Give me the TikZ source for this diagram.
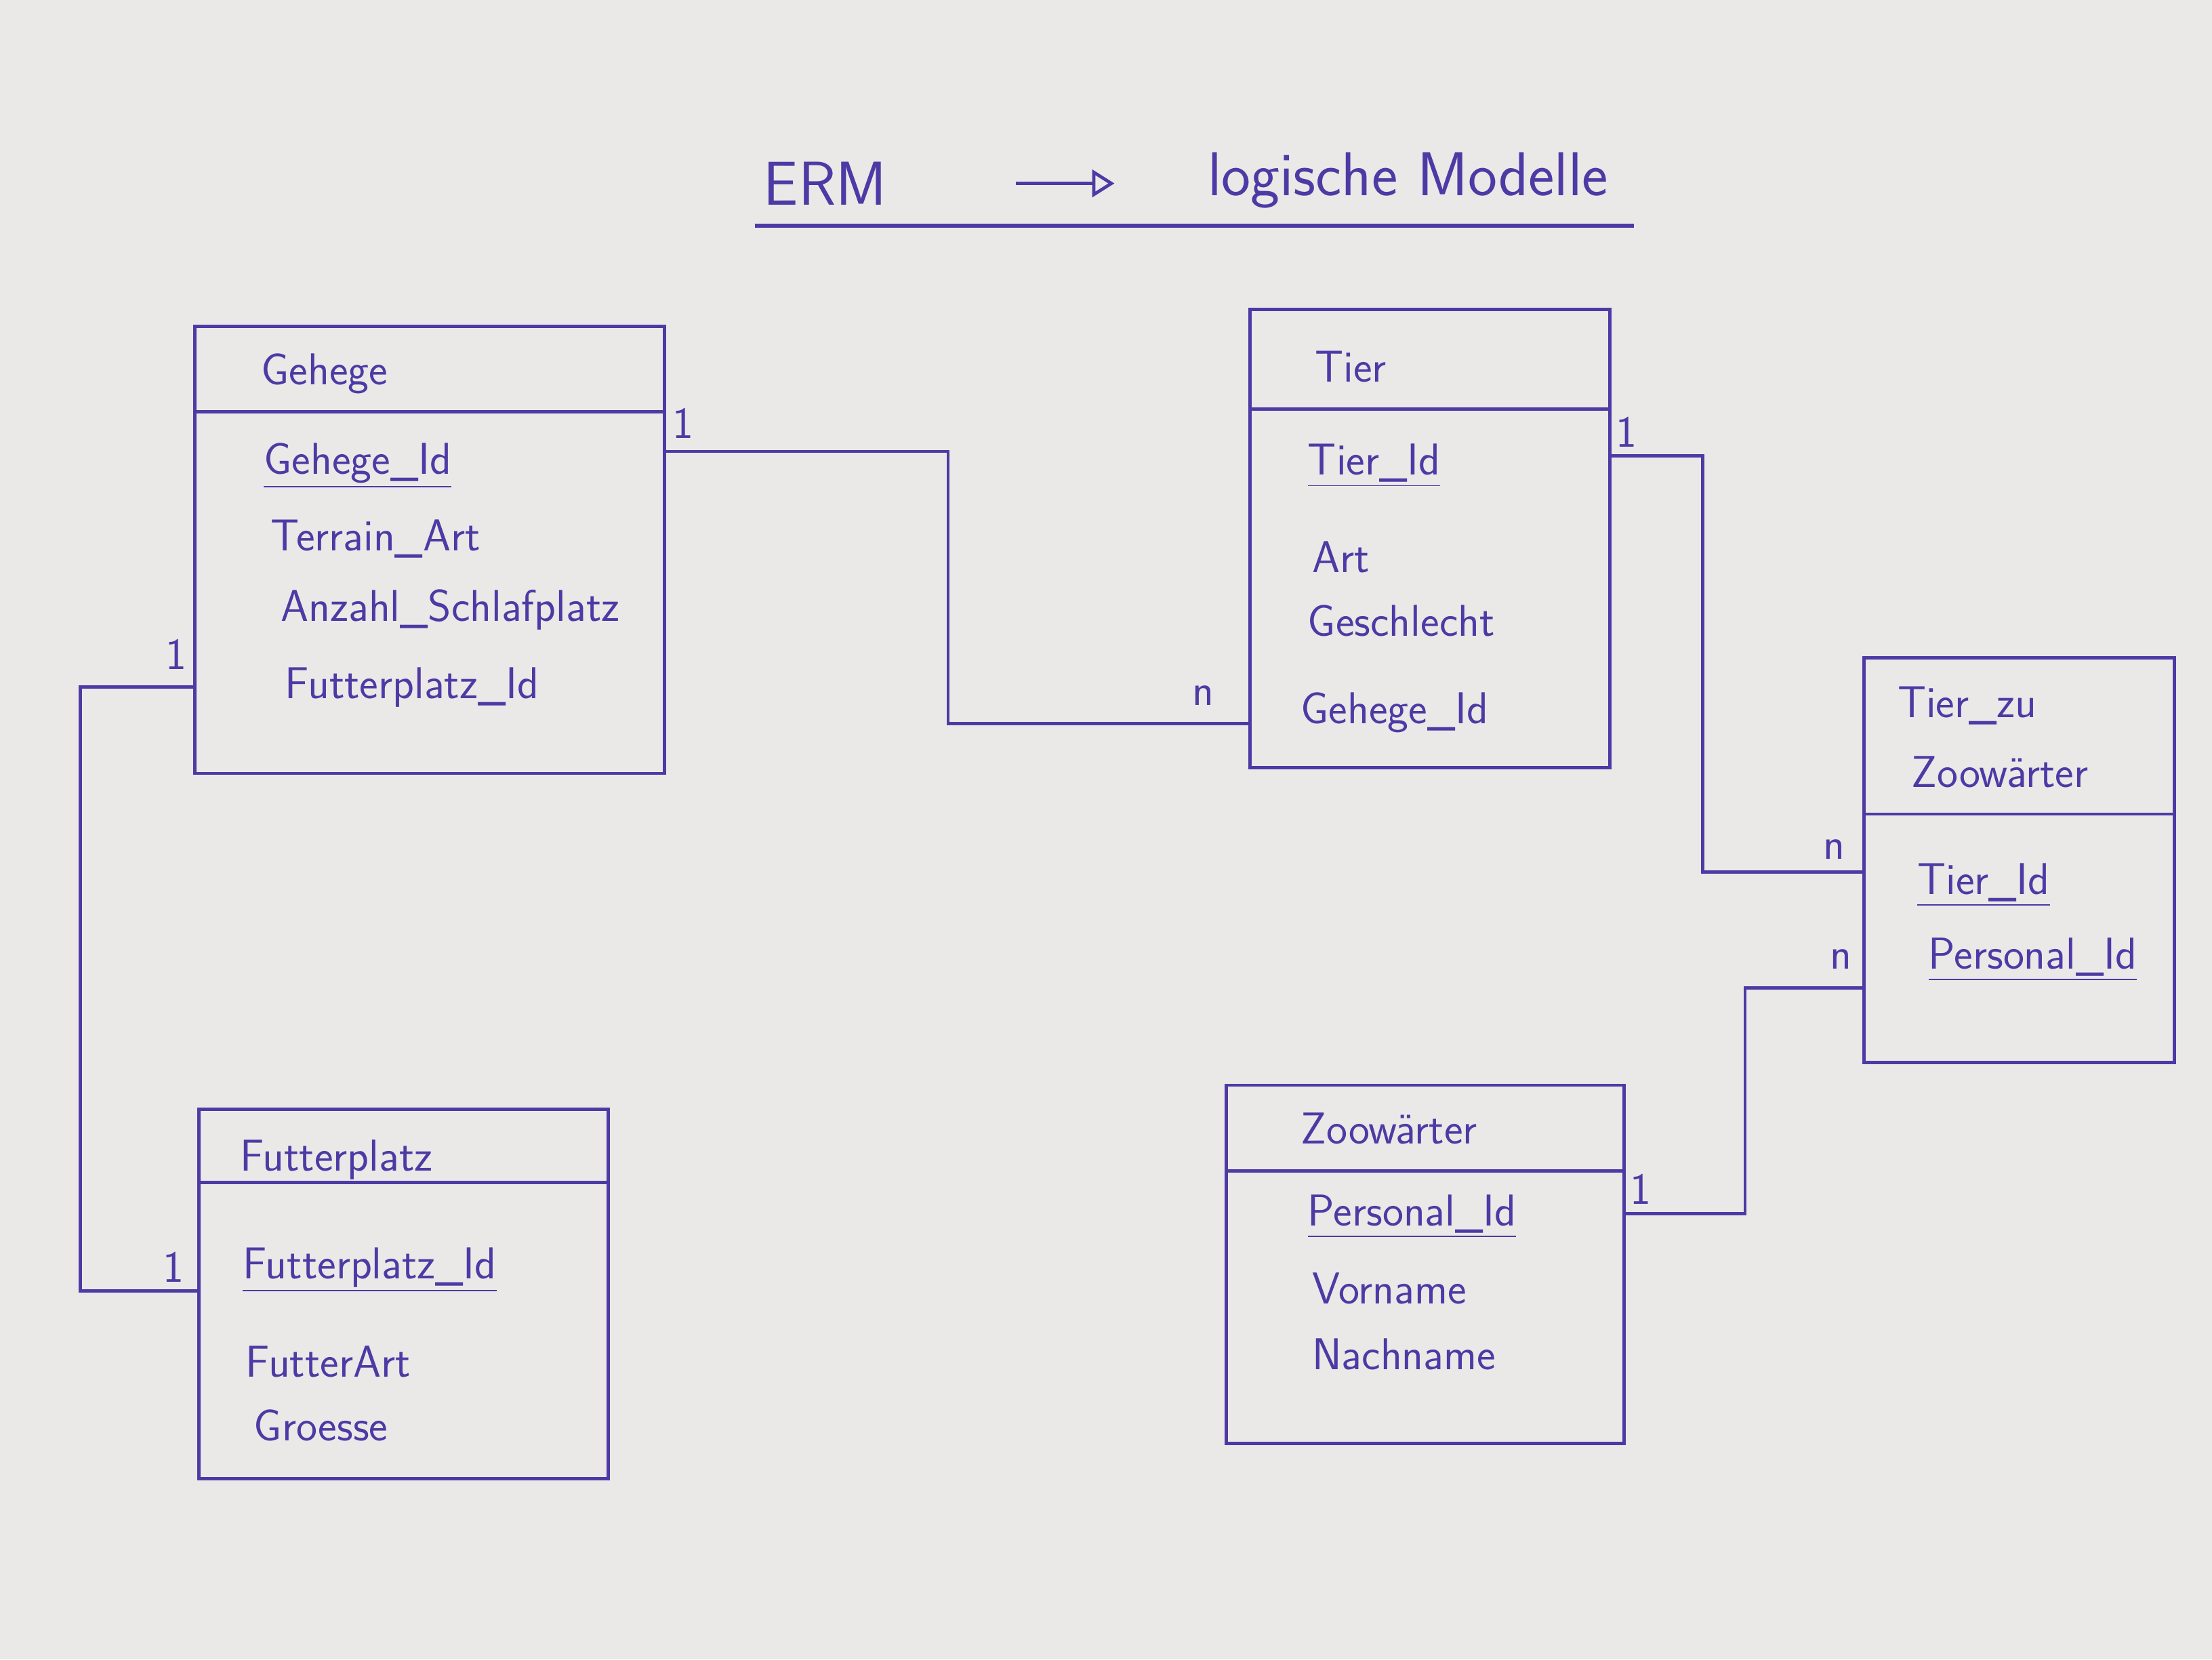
\documentclass[tikz,border=0pt]{standalone}
\usepackage{fontspec}
\usetikzlibrary{positioning,arrows.meta,calc}
\definecolor{ink}{RGB}{78,58,165}
\definecolor{paper}{RGB}{234,233,231}

\begin{document}
\begin{tikzpicture}[
  tbl/.style={rectangle,draw=ink,line width=1.3pt,anchor=north west,inner sep=0pt},
  tblname/.style={anchor=west,text=ink,font=\sffamily\fontsize{18}{21}\selectfont,inner sep=1pt},
  attr/.style={anchor=west,text=ink,font=\sffamily\fontsize{18}{21}\selectfont,inner sep=1pt},
  card/.style={text=ink,font=\sffamily\fontsize{18}{21}\selectfont,inner sep=1pt},
  rel/.style={draw=ink,line width=1.3pt},
  sep/.style={draw=ink,line width=1.3pt},
  head/.style={text=ink,font=\sffamily\fontsize{25}{30}\selectfont},
]
% paper
\fill[paper] (0,0) rectangle (31.36,23.52);
\useasboundingbox (0,0) rectangle (31.36,23.52);

% Heading
\node[head] (erm) at (11.70,20.92) {ERM};
\node[head] (logmod) at (19.96,20.96) {logische Modelle};
\coordinate (arrA) at (14.40,20.92);
\coordinate (arrB) at (15.80,20.92);
\draw[rel,-{Triangle[open,length=9pt,width=11pt]}] (arrA) -- (arrB);
\draw[sep,line width=1.8pt] (10.70,20.32) -- (23.16,20.32);

% Gehege - top left
\node[tbl,minimum width=6.66cm,minimum height=6.34cm] (gehege) at (2.74,18.92) {};
\draw[sep] ([yshift=-1.24cm]gehege.north west) -- ([yshift=-1.24cm]gehege.north east);
\node[tblname] (gname) at (3.66,18.22) {Gehege};
\node[attr] (g1) at (3.70,16.92) {\underline{Gehege\_Id}};
\node[attr] (g2) at (3.80,15.88) {Terrain\_Art};
\node[attr] (g3) at (3.94,14.88) {Anzahl\_Schlafplatz};
\node[attr] (g4) at (4.00,13.78) {Futterplatz\_Id};

% Tier - top middle
\node[tbl,minimum width=5.10cm,minimum height=6.50cm] (tier) at (17.70,19.16) {};
\draw[sep] ([yshift=-1.44cm]tier.north west) -- ([yshift=-1.44cm]tier.north east);
\node[tblname] (tname) at (18.60,18.32) {Tier};
\node[attr] (t1) at (18.50,16.92) {\underline{Tier\_Id}};
\node[attr] (t2) at (18.56,15.62) {Art};
\node[attr] (t3) at (18.50,14.72) {Geschlecht};
\node[attr] (t4) at (18.40,13.42) {Gehege\_Id};

% Tier_zu Zoowaerter - right
\node[tbl,minimum width=4.40cm,minimum height=5.74cm] (tzz) at (26.40,14.22) {};
\draw[sep] ([yshift=-2.24cm]tzz.north west) -- ([yshift=-2.24cm]tzz.north east);
\node[tblname] (tzname1) at (26.86,13.52) {Tier\_zu};
\node[tblname] (tzname2) at (27.06,12.58) {Zoowärter};
\node[attr] (z1) at (27.14,10.98) {\underline{Tier\_Id}};
\node[attr] (z2) at (27.30,9.92) {\underline{Personal\_Id}};

% Futterplatz - bottom left
\node[tbl,minimum width=5.80cm,minimum height=5.24cm] (futter) at (2.80,7.82) {};
\draw[sep] ([yshift=-1.06cm]futter.north west) -- ([yshift=-1.06cm]futter.north east);
\node[tblname] (fname) at (3.36,7.08) {Futterplatz};
\node[attr] (f1) at (3.40,5.52) {\underline{Futterplatz\_Id}};
\node[attr] (f2) at (3.44,4.22) {FutterArt};
\node[attr] (f3) at (3.56,3.32) {Groesse};

% Zoowaerter - bottom middle
\node[tbl,minimum width=5.64cm,minimum height=5.08cm] (zoo) at (17.36,8.16) {};
\draw[sep] ([yshift=-1.24cm]zoo.north west) -- ([yshift=-1.24cm]zoo.north east);
\node[tblname] (zname) at (18.40,7.52) {Zoowärter};
\node[attr] (w1) at (18.50,6.28) {\underline{Personal\_Id}};
\node[attr] (w2) at (18.56,5.26) {Vorname};
\node[attr] (w3) at (18.56,4.32) {Nachname};

% Gehege 1:n Tier
\coordinate (k1) at (13.44,13.26);
\draw[rel] (gehege.east |- 0,17.12) -| (k1) -- (k1 -| tier.west);
\node[card] (c1a) at (9.68,17.52) {1};
\node[card] (c1b) at (17.06,13.66) {n};

% Tier 1:n Tier_zu Zoowaerter
\coordinate (k2) at (24.14,11.16);
\draw[rel] (tier.east |- 0,17.06) -| (k2) -- (k2 -| tzz.west);
\node[card] (c2a) at (23.06,17.40) {1};
\node[card] (c2b) at (26.00,11.48) {n};

% Zoowaerter 1:n Tier_zu Zoowaerter
\coordinate (k3) at (24.74,9.52);
\draw[rel] (zoo.east |- 0,6.32) -| (k3) -- (k3 -| tzz.west);
\node[card] (c3a) at (23.26,6.66) {1};
\node[card] (c3b) at (26.10,9.92) {n};

% Gehege 1:1 Futterplatz
\coordinate (k4) at (1.14,5.22);
\draw[rel] (gehege.west |- 0,13.78) -| (k4) -- (k4 -| futter.west);
\node[card] (c4a) at (2.50,14.24) {1};
\node[card] (c4b) at (2.46,5.56) {1};
\end{tikzpicture}
\end{document}
